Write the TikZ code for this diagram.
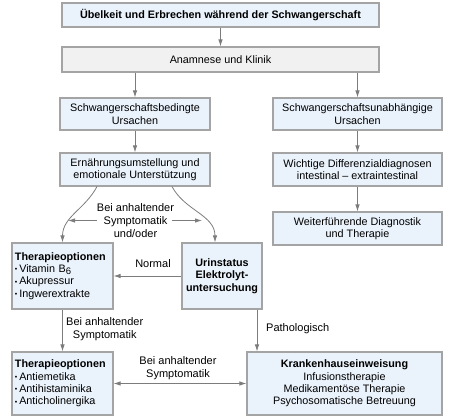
\documentclass[tikz,border=0pt]{standalone}
\usepackage{fontspec}
\setmainfont{Liberation Sans}
\usetikzlibrary{arrows.meta}
\definecolor{boxblue}{HTML}{EAF2FB}
\definecolor{boxgray}{HTML}{F1F1F1}
\definecolor{edgegray}{HTML}{A4A4A4}
\definecolor{arrgray}{HTML}{7C7C7C}
\newcommand{\bul}{\raisebox{0.15ex}{\scriptsize•}\,}
\begin{document}
\begin{tikzpicture}[x=1pt,y=-1pt,
  font=\fontsize{10.8}{12.4}\selectfont,
  box/.style={draw=edgegray, line width=1.1pt, fill=boxblue, inner sep=3pt, align=center, text=black},
  graybox/.style={box, fill=boxgray},
  listbox/.style={box, align=left, text width=#1},
  conn/.style={draw=arrgray, line width=0.8pt, -{Latex[length=7pt,width=4.5pt]}},
  dconn/.style={draw=arrgray, line width=0.8pt, {Latex[length=7pt,width=4.5pt]}-{Latex[length=7pt,width=4.5pt]}},
  lbl/.style={align=center, inner sep=0pt, font=\fontsize{11}{13}\selectfont}
]
\useasboundingbox (0,0) rectangle (453,417);

\node[box, minimum width=317, minimum height=24] (title) at (220.5,15) {\bfseries Übelkeit und Erbrechen während der Schwangerschaft};
\node[graybox, minimum width=317, minimum height=25] (anam) at (220.5,59.5) {Anamnese und Klinik};
\node[box, minimum width=150, minimum height=32] (sb) at (135,114) {Schwangerschaftsbedingte\\Ursachen};
\node[box, minimum width=169, minimum height=32] (su) at (357.5,114) {Schwangerschaftsunabhängige\\Ursachen};
\node[box, minimum width=150, minimum height=33] (ern) at (135,169.5) {Ernährungsumstellung und\\emotionale Unterstützung};
\node[box, minimum width=169, minimum height=33] (wd) at (357.5,169.5) {Wichtige Differenzialdiagnosen\\intestinal -- extraintestinal};
\node[box, minimum width=169, minimum height=33] (wt) at (357.5,228.5) {Weiterführende Diagnostik\\und Therapie};
\node[listbox=95, minimum height=66] (th1) at (62.5,276) {\textbf{Therapieoptionen}\\\bul Vitamin B\raisebox{-0.35ex}{\fontsize{9.5}{10}\selectfont 6}\\\bul Akupressur\\\bul Ingwerextrakte};
\node[box, minimum width=80, minimum height=66] (urin) at (222,276) {\bfseries Urinstatus\\\bfseries Elektrolyt-\\\bfseries untersuchung};
\node[listbox=95, minimum height=63] (th2) at (62.5,383.5) {\textbf{Therapieoptionen}\\\bul Antiemetika\\\bul Antihistaminika\\\bul Anticholinergika};
\node[box, minimum width=195, minimum height=63] (kh) at (344.5,383.5) {\textbf{Krankenhauseinweisung}\\Infusionstherapie\\Medikamentöse Therapie\\Psychosomatische Betreuung};

% labels
\node[lbl] (l1) at (135.5,220.5) {Bei anhaltender\\Symptomatik\\und/oder};
\node[lbl] (l2) at (153,264) {Normal};
\node[lbl, anchor=west] (l3) at (66,329.5) {Bei anhaltender\\Symptomatik};
\node[lbl, anchor=west] (l4) at (266,329) {Pathologisch};
\node[lbl] (l5) at (178,368.5) {Bei anhaltender\\Symptomatik};

% connectors
\draw[conn] (title) -- (anam);
\draw[conn] (anam.south -| sb.north) -- (sb.north);
\draw[conn] (anam.south -| su.north) -- (su.north);
\draw[conn] (sb) -- (ern);
\draw[conn] (su) -- (wd);
\draw[conn] (wd) -- (wt);
\draw[conn] ([xshift=-38]ern.south) to[out=-118,in=90] (th1.north);
\draw[conn] ([xshift=37]ern.south) to[out=-62,in=90] ([xshift=-7]urin.north);
\coordinate (hl) at (97,220.5);
\coordinate (hla) at (68,220.5);
\coordinate (hr) at (172,220.5);
\coordinate (hra) at (202,220.5);
\draw[conn] (hl) -- (hla);
\draw[conn] (hr) -- (hra);
\draw[conn] (urin.west) -- (th1.east);
\draw[conn] (th1) -- (th2);
\draw[conn] ([xshift=35]urin.south) -- ([xshift=35]urin.south |- kh.north);
\draw[dconn] (th2.east) -- (kh.west);
\end{tikzpicture}
\end{document}
